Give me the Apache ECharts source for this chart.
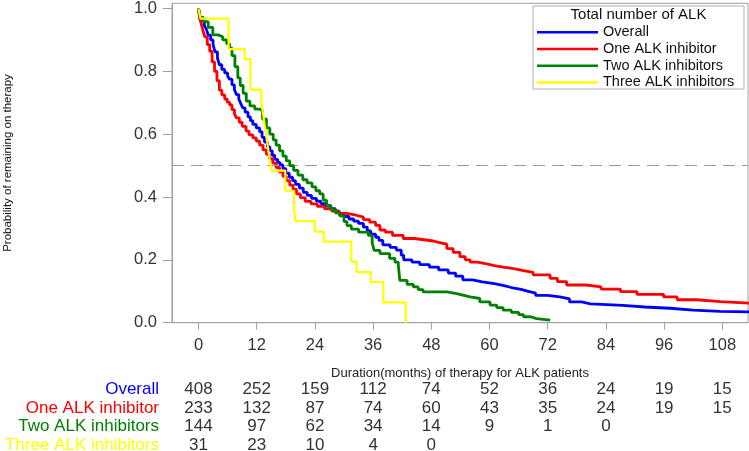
<!DOCTYPE html>
<html>
<head>
<meta charset="utf-8">
<script src="https://cdn.jsdelivr.net/npm/echarts@6/dist/echarts.min.js"></script>
<style>
html,body{margin:0;padding:0;background:#fff;}
#chart{width:749px;height:451px;}
</style>
</head>
<body>
<div id="chart"></div>
<script>
// ---- data ----
const timeTicks = [0, 12, 24, 36, 48, 60, 72, 84, 96, 108];
const probTicks = [0, 0.2, 0.4, 0.6, 0.8, 1.0];
const groupNames = ['Overall', 'One ALK inhibitor', 'Two ALK inhibitors', 'Three ALK inhibitors'];
const legendTitle = 'Total number of ALK';
const xTitle = 'Duration(months) of therapy for ALK patients';
const yTitle = 'Probability of remaining on therapy';

const overallCurve = [[0,1.0],[0.3,0.975],[0.7,0.96],[1.2,0.945],[1.6,0.935],[2.0,0.915],[2.5,0.9],[3.0,0.885],[3.4,0.862],[3.9,0.842],[4.3,0.821],[4.8,0.806],[5.4,0.795],[6.0,0.785],[6.4,0.775],[6.9,0.757],[7.4,0.742],[7.8,0.726],[8.3,0.712],[8.7,0.698],[9.1,0.684],[9.6,0.67],[10.2,0.655],[10.7,0.643],[11.2,0.631],[11.9,0.62],[12.6,0.608],[13.1,0.59],[13.6,0.575],[14.2,0.56],[14.7,0.547],[15.2,0.533],[15.7,0.52],[16.3,0.51],[16.8,0.502],[17.4,0.49],[18.0,0.476],[18.7,0.463],[19.4,0.452],[20.0,0.44],[20.8,0.428],[21.6,0.415],[22.4,0.405],[23.3,0.396],[24.3,0.387],[25.2,0.379],[26.2,0.371],[27.2,0.363],[28.2,0.355],[29.0,0.347],[30.0,0.338],[31.0,0.33],[32.0,0.323],[33.0,0.316],[34.0,0.304],[34.8,0.292],[35.5,0.282],[36.5,0.272],[37.2,0.262],[38.0,0.248],[39.5,0.24],[40.8,0.231],[41.8,0.215],[42.3,0.2],[44.0,0.193],[45.6,0.185],[47.6,0.177],[49.5,0.168],[51.5,0.158],[53.0,0.148],[54.5,0.136],[56.5,0.13],[58.5,0.124],[61.0,0.118],[63.0,0.112],[64.5,0.106],[66.5,0.1],[68.0,0.094],[69.5,0.087],[72.0,0.082],[74.5,0.076],[76.5,0.066],[79.0,0.06],[80.8,0.055],[87.5,0.05],[92.0,0.046],[97.2,0.04],[102.0,0.036],[107.5,0.034],[114,0.034]];

const oneCurve = [[0,1.0],[0.2,0.97],[0.5,0.955],[0.9,0.93],[1.3,0.91],[1.8,0.885],[2.3,0.864],[2.8,0.83],[3.3,0.80],[3.8,0.77],[4.3,0.74],[4.8,0.725],[5.4,0.712],[5.9,0.702],[6.4,0.693],[6.9,0.678],[7.4,0.665],[7.8,0.652],[8.4,0.638],[9.0,0.625],[9.8,0.61],[10.4,0.598],[11.2,0.588],[11.9,0.578],[12.6,0.565],[13.3,0.55],[14.0,0.536],[14.6,0.522],[15.3,0.508],[16.0,0.494],[16.7,0.48],[17.4,0.466],[18.1,0.452],[18.8,0.438],[19.5,0.424],[20.2,0.41],[21.0,0.398],[22.0,0.386],[23.2,0.378],[24.5,0.37],[26.0,0.362],[27.5,0.355],[29.0,0.348],[30.5,0.342],[32.5,0.336],[34.0,0.328],[35.3,0.32],[36.5,0.31],[37.4,0.295],[38.5,0.288],[40.0,0.278],[42.2,0.268],[44.5,0.264],[46.5,0.26],[48.4,0.256],[49.5,0.25],[51.2,0.236],[52.5,0.224],[53.9,0.21],[55.0,0.2],[56.0,0.193],[57.5,0.187],[59.4,0.182],[61.0,0.177],[62.8,0.172],[65.0,0.166],[67.0,0.16],[69.0,0.152],[72.5,0.141],[74.0,0.131],[75.9,0.12],[80.0,0.114],[83.0,0.107],[87.0,0.099],[90.4,0.09],[95.9,0.082],[98.7,0.073],[102.8,0.067],[107.6,0.062],[114,0.062]];

const twoCurve = [[0,1.0],[0.3,0.972],[1.0,0.958],[2.0,0.94],[2.95,0.916],[4.0,0.91],[5.0,0.9],[5.8,0.888],[6.4,0.874],[6.9,0.85],[7.5,0.815],[8.1,0.779],[8.6,0.755],[9.2,0.73],[9.85,0.705],[10.6,0.69],[11.6,0.68],[12.6,0.674],[13.2,0.648],[14.0,0.62],[14.7,0.6],[15.4,0.582],[16.0,0.565],[16.7,0.547],[17.4,0.53],[18.1,0.515],[18.8,0.5],[19.6,0.485],[20.5,0.47],[21.5,0.455],[22.4,0.445],[23.4,0.432],[24.2,0.42],[25.0,0.41],[25.7,0.39],[26.4,0.373],[27.3,0.36],[28.2,0.35],[29.1,0.34],[30.0,0.322],[30.6,0.309],[31.5,0.298],[33.0,0.288],[35.0,0.278],[35.8,0.255],[36.2,0.23],[37.4,0.22],[39.4,0.205],[40.5,0.193],[41.2,0.183],[41.5,0.135],[43.0,0.122],[44.3,0.114],[45.3,0.105],[46.3,0.098],[51.2,0.093],[53.0,0.088],[54.5,0.082],[56.0,0.077],[58.0,0.066],[60.1,0.056],[61.5,0.048],[62.8,0.04],[64.5,0.033],[66.0,0.026],[67.0,0.019],[68.5,0.013],[69.7,0.008],[72.5,0.008]];

const threeCurve = [[0,1.0],[0.4,0.968],[6.2,0.871],[9.5,0.839],[10.7,0.742],[12.9,0.71],[13.2,0.677],[13.5,0.645],[13.8,0.613],[14.1,0.581],[14.4,0.548],[14.7,0.516],[15.0,0.484],[17.9,0.42],[19.7,0.355],[20.0,0.323],[24.0,0.29],[25.8,0.258],[31.5,0.194],[32.6,0.161],[35.5,0.129],[38.1,0.065],[42.7,0.0]];

const riskOverall = [408, 252, 159, 112, 74, 52, 36, 24, 19, 15];
const riskOne = [233, 132, 87, 74, 60, 43, 35, 24, 19, 15];
const riskTwo = [144, 97, 62, 34, 14, 9, 1, 0];
const riskThree = [31, 23, 10, 4, 0];

const curves = [overallCurve, oneCurve, twoCurve, threeCurve];
const risks = [riskOverall, riskOne, riskTwo, riskThree];
const colors = ['#0000ff', '#ff0000', '#008000', '#ffff00'];

// ---- chart ----
const FONT = 'Liberation Sans, Arial, sans-serif';
const chart = echarts.init(document.getElementById('chart'), null, {renderer: 'canvas'});

const series = curves.map((c, i) => ({
  name: groupNames[i],
  type: 'line',
  step: 'end',
  data: c,
  symbol: 'none',
  showSymbol: false,
  lineStyle: {color: colors[i], width: i === 3 ? 2.2 : 2.8},
  itemStyle: {color: colors[i]},
  z: 3 + i,
  silent: true,
  markLine: i === 0 ? {
    silent: true,
    symbol: 'none',
    label: {show: false},
    lineStyle: {color: '#999', type: [12, 7], width: 1},
    data: [{yAxis: 0.5}]
  } : undefined
}));

const option = {
  animation: false,
  backgroundColor: '#fff',
  grid: {left: 172, right: 1, top: 1.5, bottom: 128.3, show: true, borderColor: '#a0a0a0', borderWidth: 1, backgroundColor: '#fff'},
  xAxis: {
    type: 'value',
    min: -5.47, max: 113.3,
    axisLine: {show: true, onZero: false, lineStyle: {color: '#a0a0a0'}},
    axisTick: {show: true, customValues: timeTicks, length: 7, lineStyle: {color: '#a0a0a0'}},
    axisLabel: {customValues: timeTicks, fontFamily: FONT, fontSize: 16.5, color: '#333', margin: 14},
    splitLine: {show: false},
    name: xTitle,
    nameLocation: 'middle',
    nameGap: 44,
    nameTextStyle: {fontFamily: FONT, fontSize: 13, color: '#222'}
  },
  yAxis: {
    type: 'value',
    min: 0, max: 1.0165,
    axisLine: {show: true, onZero: false, lineStyle: {color: '#a0a0a0'}},
    axisTick: {show: true, customValues: probTicks, length: 9, lineStyle: {color: '#a0a0a0'}},
    axisLabel: {customValues: probTicks, fontFamily: FONT, fontSize: 16.5, color: '#333', margin: 15,
      formatter: v => v.toFixed(1)},
    splitLine: {show: false}
  },
  legend: {
    show: true,
    orient: 'vertical',
    left: 537, top: 24,
    padding: 0,
    itemGap: 0,
    itemWidth: 61,
    itemHeight: 2.5,
    icon: 'rect',
    textStyle: {fontFamily: FONT, fontSize: 14.5, color: '#111', lineHeight: 16.7},
    data: groupNames.map(n => ({name: n, icon: 'rect'}))
  },
  series: series
};
chart.setOption(option);

// risk table & titles placed through the axis scale
const graphics = [];
graphics.push({type: 'rect', shape: {x: 533, y: 6, width: 211, height: 83},
  style: {fill: 'rgba(0,0,0,0)', stroke: '#b0b0b0', lineWidth: 1}, z: 1});
graphics.push({type: 'text', x: 638.5, y: 15, style: {text: legendTitle, fontFamily: FONT, fontSize: 15,
  fill: '#111', align: 'center', verticalAlign: 'middle'}});
graphics.push({type: 'text', x: 8, y: 163, rotation: Math.PI / 2,
  style: {text: yTitle, fontFamily: FONT, fontSize: 11.5, fill: '#111', align: 'center', verticalAlign: 'middle'}});
const rowY = [389.3, 408.3, 426.7, 445];
risks.forEach((arr, r) => {
  graphics.push({type: 'text', x: 159, y: rowY[r], style: {text: groupNames[r], fontFamily: FONT, fontSize: 17,
    fill: colors[r], align: 'right', verticalAlign: 'middle'}});
  arr.forEach((v, k) => {
    const px = chart.convertToPixel({xAxisIndex: 0}, timeTicks[k]);
    graphics.push({type: 'text', x: px, y: rowY[r], style: {text: String(v), fontFamily: FONT, fontSize: 17,
      fill: '#333', align: 'center', verticalAlign: 'middle'}});
  });
});
chart.setOption({graphic: graphics});
</script>
</body>
</html>
